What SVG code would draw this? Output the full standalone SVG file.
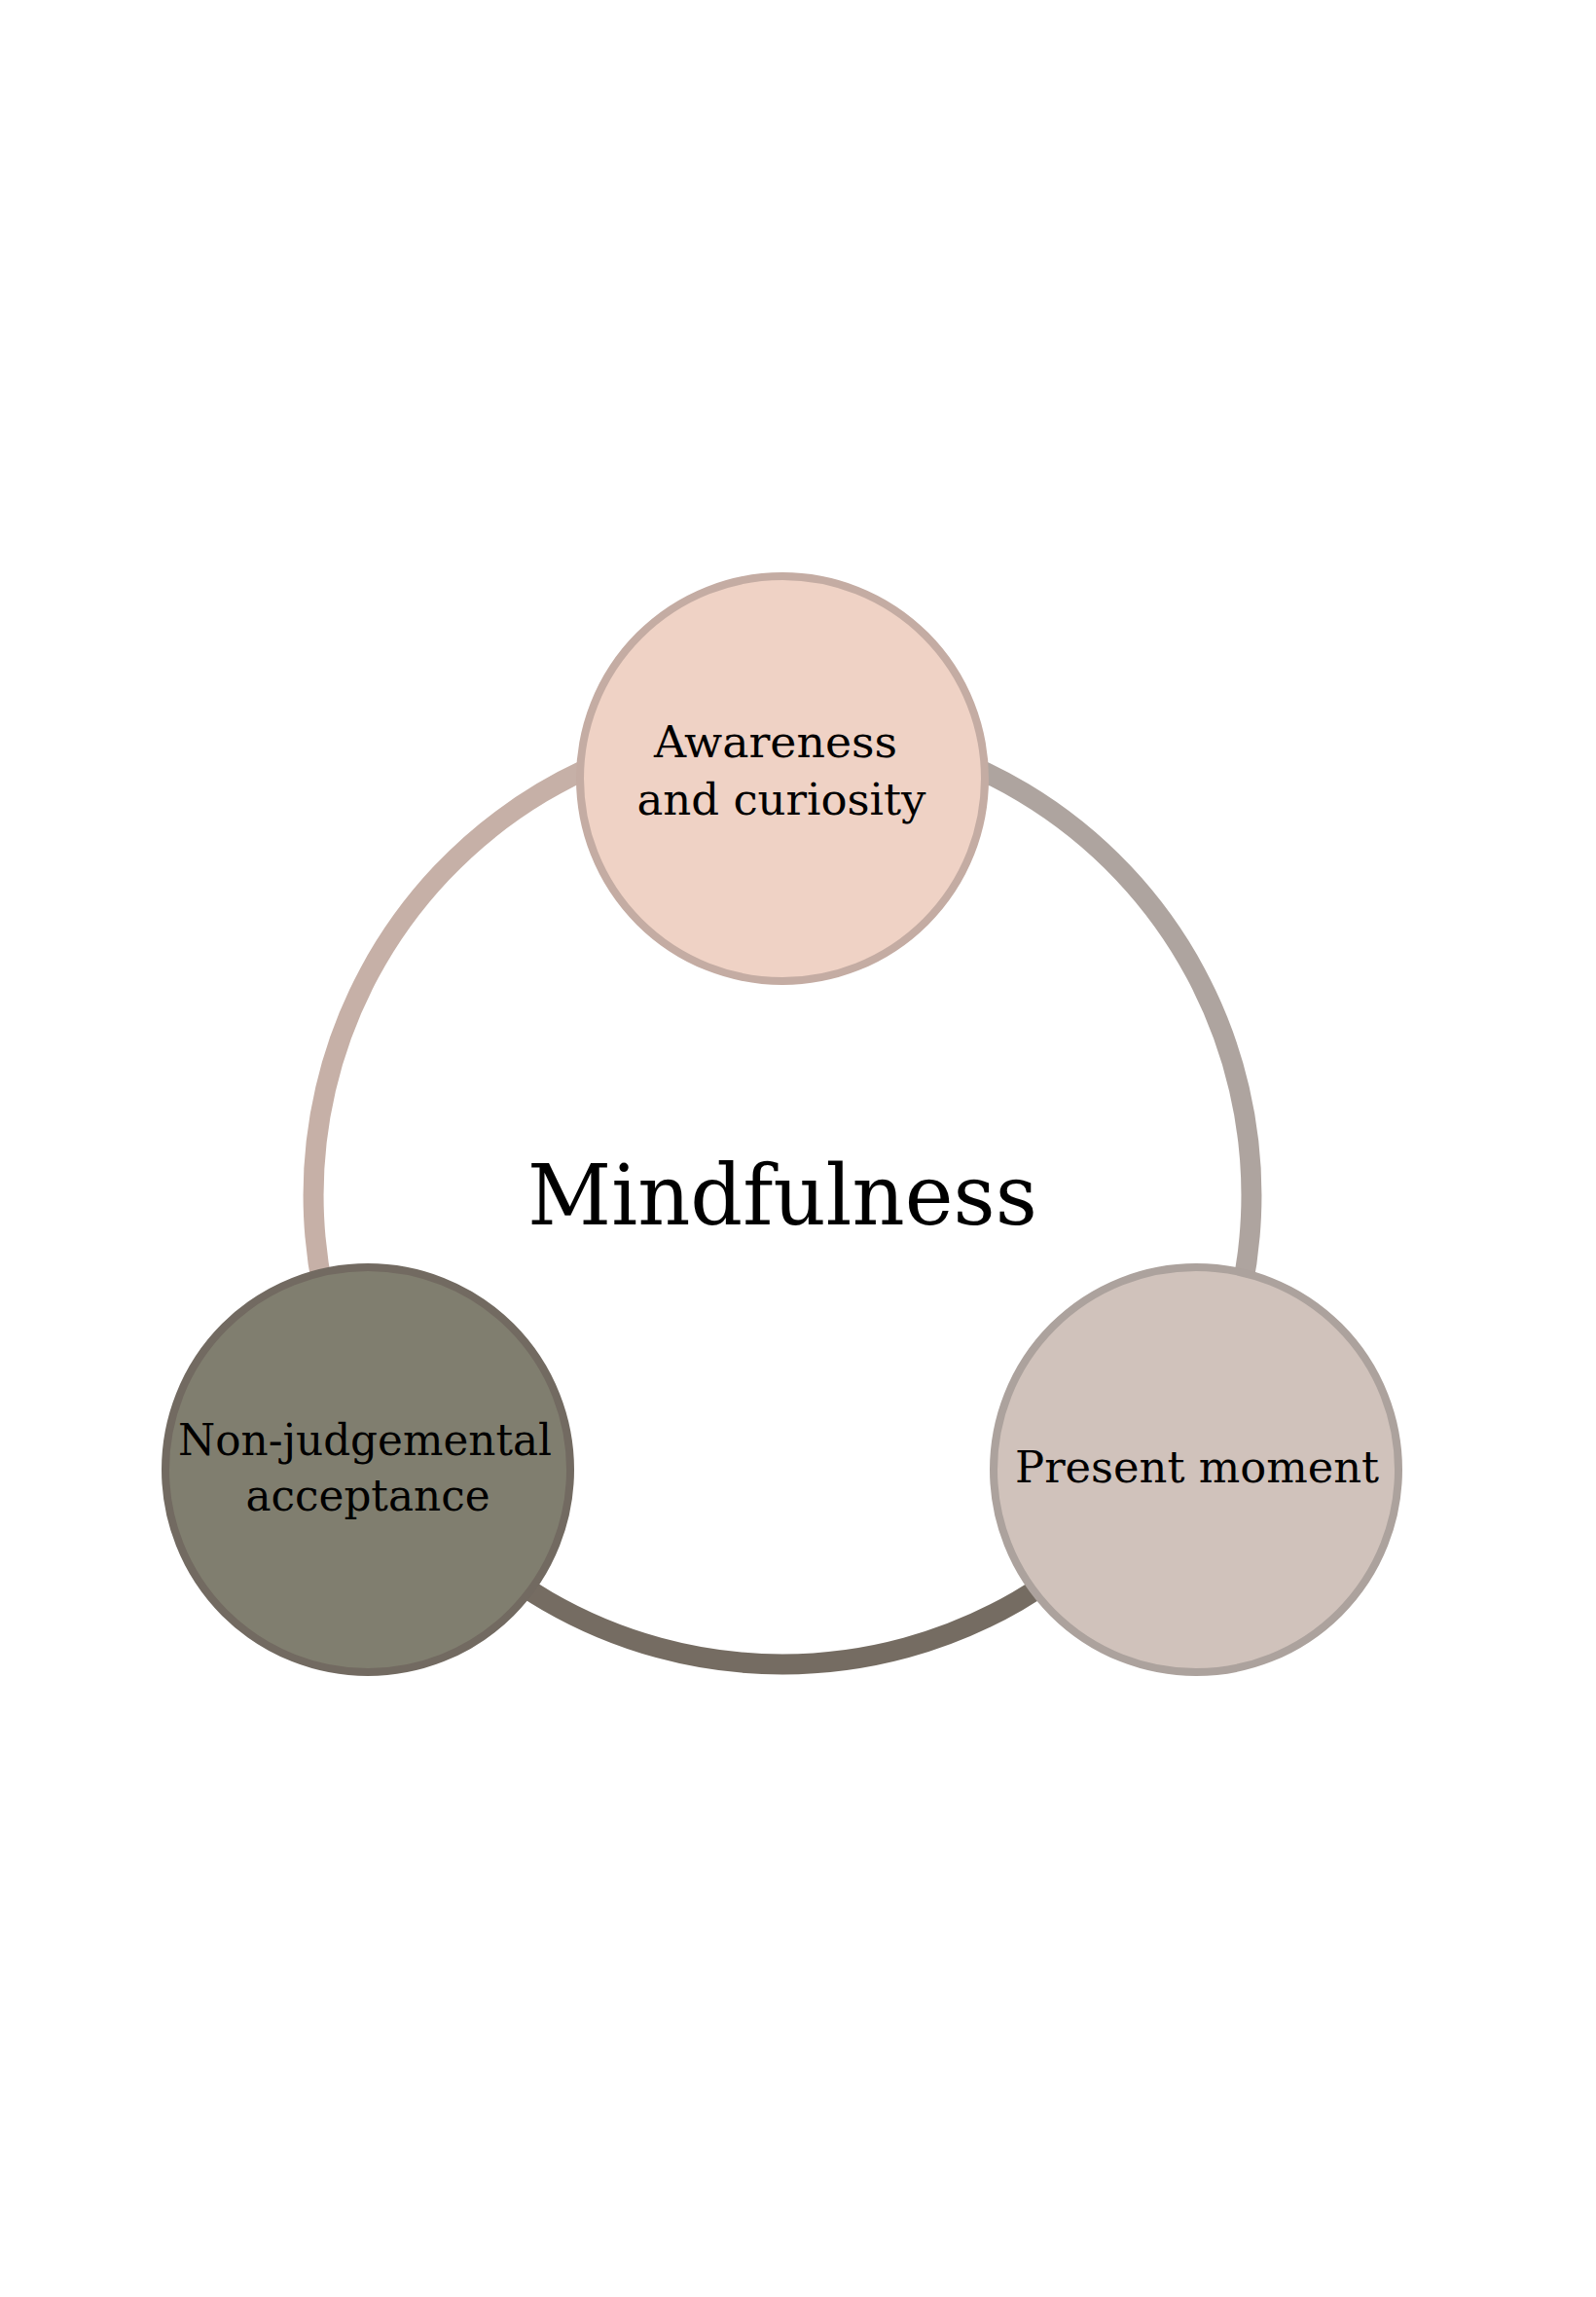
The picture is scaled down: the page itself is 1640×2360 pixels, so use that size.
<svg xmlns="http://www.w3.org/2000/svg" width="1640" height="2360" viewBox="0 0 1640 2360">
<style>
.ring{fill:none;stroke-width:21}
.lbl{font-family:"DejaVu Serif","Liberation Serif",serif;font-size:44px;fill:#000;text-anchor:middle}
.title{font-family:"DejaVu Serif","Liberation Serif",serif;font-size:86px;fill:#000;text-anchor:middle}
.node{stroke-width:8}
</style>
<rect x="0" y="0" width="1640" height="2360" fill="#ffffff"/>
<g id="connectors">
<path class="ring" stroke="#c6b0a7" d="M 804 746 A 482 482 0 0 0 402.1 1494"/>
<path class="ring" stroke="#aea49f" d="M 804 746 A 482 482 0 0 1 1205.9 1494"/>
<path class="ring" stroke="#756c62" d="M 402.1 1494 A 482 482 0 0 0 1205.9 1494"/>
</g>
<g id="center">
<text class="title" x="804" y="1258" textLength="524" lengthAdjust="spacingAndGlyphs">Mindfulness</text>
</g>
<g id="node-awareness">
<circle class="node" cx="804" cy="800" r="208" fill="#efd2c5" stroke="#c4aca3"/>
<text class="lbl" x="797" y="778" textLength="250" lengthAdjust="spacingAndGlyphs">Awareness</text>
<text class="lbl" x="803" y="837" textLength="297" lengthAdjust="spacingAndGlyphs">and curiosity</text>
</g>
<g id="node-acceptance">
<circle class="node" cx="378" cy="1510" r="208" fill="#807e6f" stroke="#726a61"/>
<text class="lbl" x="375" y="1495" textLength="384" lengthAdjust="spacingAndGlyphs">Non-judgemental</text>
<text class="lbl" x="378" y="1552" textLength="251" lengthAdjust="spacingAndGlyphs">acceptance</text>
</g>
<g id="node-present">
<circle class="node" cx="1229" cy="1510" r="208" fill="#d0c2bb" stroke="#aca29d"/>
<text class="lbl" x="1230" y="1523" textLength="374" lengthAdjust="spacingAndGlyphs">Present moment</text>
</g>
</svg>
